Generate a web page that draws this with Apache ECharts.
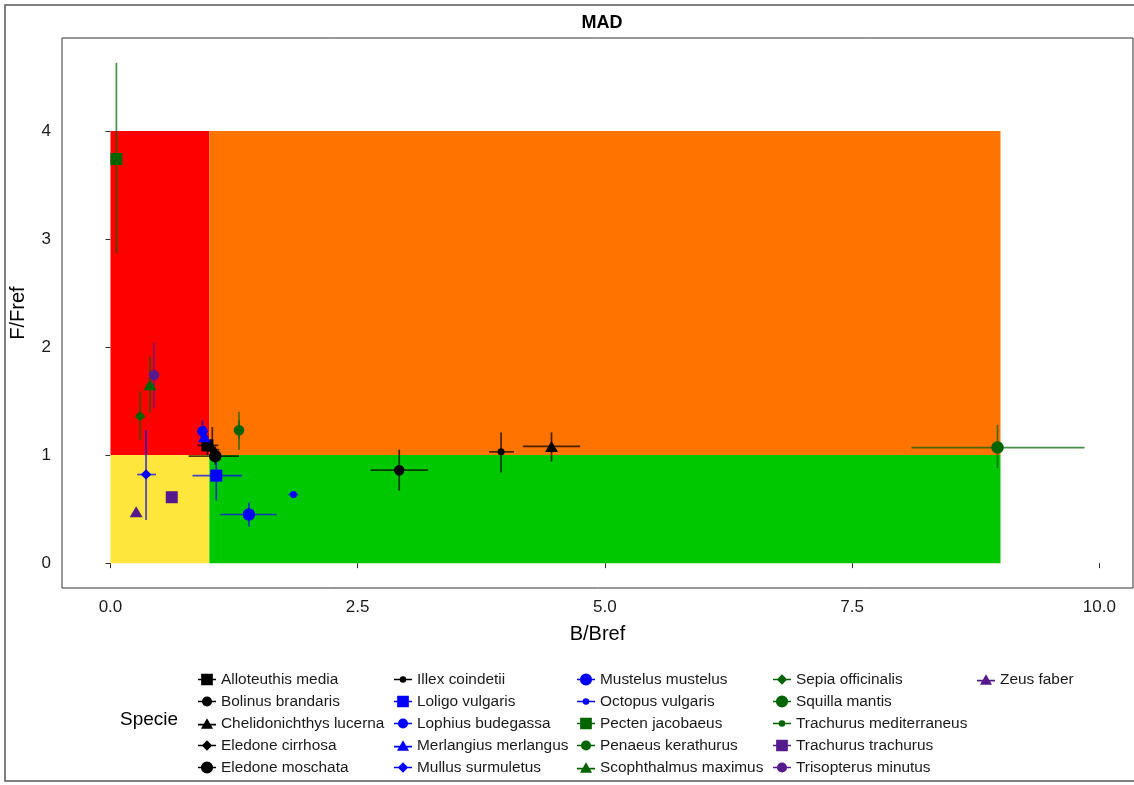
<!DOCTYPE html>
<html>
<head>
<meta charset="utf-8">
<title>MAD</title>
<script src="https://cdn.jsdelivr.net/npm/echarts@6/dist/echarts.min.js"></script>
<style>
  html, body { margin: 0; padding: 0; background: #ffffff; }
  #chart { width: 1134px; height: 785px; }
</style>
</head>
<body>
<div id="chart"></div>
<script>
// Stock status per species: biomass ratio (B/Bref) against fishing ratio (F/Fref)
const species = [
  'Alloteuthis media', 'Bolinus brandaris', 'Chelidonichthys lucerna', 'Eledone cirrhosa', 'Eledone moschata',
  'Illex coindetii', 'Loligo vulgaris', 'Lophius budegassa', 'Merlangius merlangus', 'Mullus surmuletus',
  'Mustelus mustelus', 'Octopus vulgaris', 'Pecten jacobaeus', 'Penaeus kerathurus', 'Scophthalmus maximus',
  'Sepia officinalis', 'Squilla mantis', 'Trachurus mediterraneus', 'Trachurus trachurus', 'Trisopterus minutus',
  'Zeus faber'
];
const bRatio = [0.98, 2.92, 4.46, 1.03, 1.06, 3.95, 1.07, 0.93, 0.95, 0.36, 1.40, 1.85, 0.06, 1.30, 0.40, 0.30, 8.97, 1.30, 0.62, 0.44, 0.26];
const fRatio = [1.09, 0.86, 1.08, 1.05, 0.99, 1.03, 0.81, 1.22, 1.17, 0.82, 0.45, 0.635, 3.74, 1.23, 1.65, 1.36, 1.07, 1.23, 0.61, 1.74, 0.475];
const bLow   = [0.88, 2.63, 4.17, 0.97, 0.79, 3.83, 0.83, 0.89, 0.91, 0.27, 1.11, 1.80, 0.04, 1.27, 0.36, 0.27, 8.10, 1.28, 0.60, 0.41, 0.25];
const bHigh  = [1.09, 3.21, 4.75, 1.10, 1.30, 4.08, 1.33, 0.97, 0.99, 0.46, 1.68, 1.90, 0.08, 1.33, 0.44, 0.33, 9.85, 1.32, 0.64, 0.47, 0.27];
const fLow   = [1.00, 0.67, 0.94, 0.95, 0.91, 0.84, 0.58, 1.11, 1.08, 0.40, 0.34, 0.61, 2.87, 1.05, 1.39, 1.14, 0.88, 1.15, 0.59, 1.44, 0.46];
const fHigh  = [1.18, 1.05, 1.21, 1.26, 1.08, 1.21, 0.95, 1.32, 1.27, 1.23, 0.56, 0.66, 4.63, 1.40, 1.91, 1.59, 1.28, 1.32, 0.63, 2.04, 0.49];

// Status zones (B range, F range)
const zoneB = [[0, 1], [1, 9], [0, 1], [1, 9]];
const zoneF = [[1, 4], [1, 4], [0, 1], [0, 1]];

const xTicks = [0, 2.5, 5, 7.5, 10];
const yTicks = [0, 1, 2, 3, 4];

// ---- styling ----
const zoneColours = ['#FF0000', '#FF7300', '#FFE63C', '#00C800'];
const colourCycle = ['#000000', '#0000FF', '#006400', '#551A8B'];
const shapeCycle = ['square', 'circle', 'triangle', 'diamond', 'bigCircle', 'dot'];
const shapeOf = i => shapeCycle[i % 6];
const colourOf = i => colourCycle[Math.floor(i / 6)];

const markerStyle = {
  square:    { symbol: 'rect', size: 12 },
  circle:    { symbol: 'circle', size: 10.5 },
  triangle:  { symbol: 'triangle', size: [13, 11] },
  diamond:   { symbol: 'diamond', size: [10.5, 10.5] },
  bigCircle: { symbol: 'circle', size: 12.5 },
  dot:       { symbol: 'circle', size: 7 }
};

// legend keys: short horizontal bar with the marker on top
function legendIcon(shape) {
  const bar = 'M2,9.33h16v1.34h-16z';
  const mark = {
    square:    'M4.8,4.8h10.4v10.4h-10.4z',
    circle:    'M5.5,10a4.5,4.5,0,1,1,9,0a4.5,4.5,0,1,1,-9,0z',
    bigCircle: 'M4.6,10a5.4,5.4,0,1,1,10.8,0a5.4,5.4,0,1,1,-10.8,0z',
    dot:       'M7.1,10a2.9,2.9,0,1,1,5.8,0a2.9,2.9,0,1,1,-5.8,0z',
    triangle:  'M10,4.4L15.35,13.6L4.65,13.6z',
    diamond:   'M10,5.4L14.6,10L10,14.6L5.4,10z'
  }[shape];
  return 'path://' + bar + mark;
}

const chart = echarts.init(document.getElementById('chart'), null, { renderer: 'canvas' });

const fontFamily = '"Liberation Sans", Arial, sans-serif';

const zoneSeries = {
  type: 'custom',
  name: 'zones',
  silent: true,
  z: 1,
  data: zoneB.map((b, k) => [b[0], b[1], zoneF[k][0], zoneF[k][1], k]),
  encode: { x: [0, 1], y: [2, 3] },
  renderItem: (params, api) => {
    const p0 = api.coord([api.value(0), api.value(3)]);
    const p1 = api.coord([api.value(1), api.value(2)]);
    return {
      type: 'rect',
      shape: { x: p0[0], y: p0[1], width: p1[0] - p0[0], height: p1[1] - p0[1] },
      style: { fill: zoneColours[api.value(4)] }
    };
  }
};

const errorSeries = {
  type: 'custom',
  name: 'errors',
  silent: true,
  z: 2,
  data: species.map((s, i) => [i, bRatio[i], fRatio[i], bLow[i], bHigh[i], fLow[i], fHigh[i]]),
  encode: { x: [3, 4], y: [5, 6] },
  renderItem: (params, api) => {
    const i = api.value(0);
    const h0 = api.coord([api.value(3), api.value(2)]);
    const h1 = api.coord([api.value(4), api.value(2)]);
    const v0 = api.coord([api.value(1), api.value(5)]);
    const v1 = api.coord([api.value(1), api.value(6)]);
    const st = { stroke: colourOf(i), lineWidth: 1.7, opacity: 0.72 };
    return {
      type: 'group',
      children: [
        { type: 'line', shape: { x1: h0[0], y1: h0[1], x2: h1[0], y2: h1[1] }, style: st },
        { type: 'line', shape: { x1: v0[0], y1: v0[1], x2: v1[0], y2: v1[1] }, style: st }
      ]
    };
  }
};

const pointSeries = species.map((name, i) => {
  const m = markerStyle[shapeOf(i)];
  return {
    type: 'scatter',
    name: name,
    z: 3 + i * 0.01,
    symbol: m.symbol,
    symbolSize: m.size,
    itemStyle: { color: colourOf(i), opacity: 1 },
    emphasis: { disabled: true },
    data: [[bRatio[i], fRatio[i]]]
  };
});

// five legend columns, filled top to bottom
const legendLeft = [198, 394, 577, 773, 977];
const legends = legendLeft.map((left, c) => ({
  orient: 'vertical',
  left: left,
  top: 672,
  itemWidth: 18,
  itemHeight: 14,
  itemGap: 7,
  selectedMode: false,
  padding: 0,
  textStyle: { fontFamily: fontFamily, fontSize: 15.4, color: '#1a1a1a', lineHeight: 14 },
  data: species.slice(c * 5, c * 5 + 5).map((name, k) => ({
    name: name,
    icon: legendIcon(shapeOf(c * 5 + k))
  }))
}));

const option = {
  animation: false,
  backgroundColor: '#ffffff',
  title: {
    text: 'MAD',
    left: 597,
    top: 9,
    textAlign: 'center',
    textStyle: { fontFamily: fontFamily, fontSize: 18, fontWeight: 'bold', color: '#000' }
  },
  grid: {
    left: 62, right: 1, top: 38, bottom: 197,
    show: true, borderColor: '#333333', borderWidth: 1, backgroundColor: 'transparent',
    containLabel: false
  },
  xAxis: {
    type: 'value',
    min: -0.49, max: 10.34,
    name: 'B/Bref',
    nameLocation: 'middle',
    nameGap: 36,
    nameTextStyle: { fontFamily: fontFamily, fontSize: 20, color: '#000' },
    axisLine: { show: false },
    splitLine: { show: false },
    axisTick: { show: true, length: 5, customValues: xTicks, lineStyle: { color: '#333' } },
    axisLabel: {
      customValues: xTicks, margin: 11,
      formatter: v => v.toFixed(1),
      fontFamily: fontFamily, fontSize: 17, color: '#1a1a1a'
    }
  },
  yAxis: {
    type: 'value',
    min: -0.23, max: 4.86,
    name: 'F/Fref',
    nameLocation: 'middle',
    nameGap: 34,
    nameTextStyle: { fontFamily: fontFamily, fontSize: 20, color: '#000' },
    axisLine: { show: false },
    splitLine: { show: false },
    axisTick: { show: true, length: 5, customValues: yTicks, lineStyle: { color: '#333' } },
    axisLabel: {
      customValues: yTicks, margin: 11,
      formatter: v => String(v),
      fontFamily: fontFamily, fontSize: 17, color: '#1a1a1a'
    }
  },
  legend: legends,
  graphic: [
    {
      type: 'rect', silent: true, z: -1,
      shape: { x: 5, y: 5, width: 1140, height: 776 },
      style: { fill: 'none', stroke: '#555555', lineWidth: 1.5 }
    },
    {
      type: 'text', left: 120, top: 710,
      style: { text: 'Specie', fontFamily: fontFamily, fontSize: 19, fill: '#000' }
    }
  ],
  series: [zoneSeries, errorSeries].concat(pointSeries)
};

chart.setOption(option);
</script>
</body>
</html>
